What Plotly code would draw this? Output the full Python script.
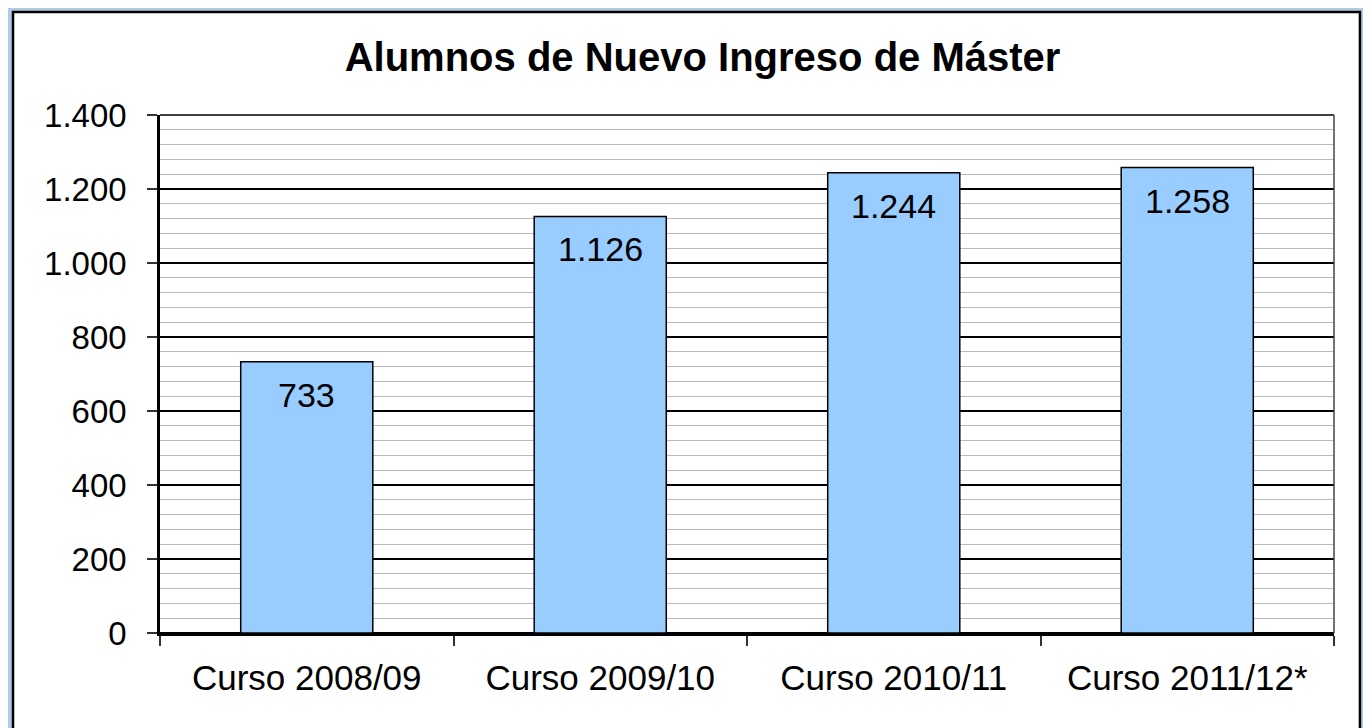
import plotly.graph_objects as go

cursos = ['Curso 2008/09', 'Curso 2009/10', 'Curso 2010/11', 'Curso 2011/12*']
alumnos = [733, 1126, 1244, 1258]

FONT = 'Liberation Sans, Arial, sans-serif'

fig = go.Figure()
fig.add_trace(go.Bar(x=cursos, y=alumnos, width=0.45,
                     marker=dict(color='#99CCFF', line=dict(color='black', width=1.5)),
                     hoverinfo='x+y', showlegend=False))

# value labels, a bit under the top of each bar
for c, v in zip(cursos, alumnos):
    fig.add_annotation(x=c, y=v, text=f'{v:,}'.replace(',', '.'), showarrow=False,
                       yanchor='middle', yshift=-33, font=dict(family=FONT, size=34, color='black'))

# white card with black border on the blue page
fig.add_shape(type='rect', xref='paper', yref='paper', x0=-0.1252, x1=1.0221, y0=-0.25, y1=1.1988,
              fillcolor='white', line=dict(color='black', width=2.5), layer='below')
# plot area top/right border
fig.add_shape(type='line', xref='paper', yref='paper', x0=0, x1=1, y0=1, y1=1,
              line=dict(color='black', width=1.5))
fig.add_shape(type='line', xref='paper', yref='paper', x0=1, x1=1, y0=0, y1=1,
              line=dict(color='#444444', width=1.5))

# page body adds ~8px offset, margins compensate for it
fig.update_layout(
    width=1371, height=728,
    margin=dict(l=152, r=45, t=107, b=103),
    paper_bgcolor='#B1CBE3',
    plot_bgcolor='#C0C0C0',
    separators=',.',
    font=dict(family=FONT, size=33, color='black'),
    title=dict(text='<b>Alumnos de Nuevo Ingreso de Máster</b>', xref='container', yref='container',
               x=0.5066, y=0.9327, xanchor='center', yanchor='middle',
               font=dict(family=FONT, size=40, color='black')),
    bargap=0.55,
)

fig.update_yaxes(range=[0, 1400], dtick=200, tickformat=',d',
                 showgrid=True, gridcolor='black', gridwidth=1.5,
                 minor=dict(dtick=40, showgrid=True, gridcolor='#BABABA', gridwidth=1),
                 zeroline=True, zerolinecolor='black', zerolinewidth=2.5,
                 showline=True, linecolor='black', linewidth=2.5,
                 ticks='outside', ticklen=10, tickwidth=1.5, tickcolor='#333333',
                 ticklabelstandoff=14, tickfont=dict(size=33))

fig.update_xaxes(showgrid=False, tickson='boundaries',
                 showline=True, linecolor='black', linewidth=2.5,
                 ticks='outside', ticklen=10, tickwidth=1.5, tickcolor='#333333',
                 ticklabelstandoff=12, tickfont=dict(size=35))

fig.write_html('out.html')
